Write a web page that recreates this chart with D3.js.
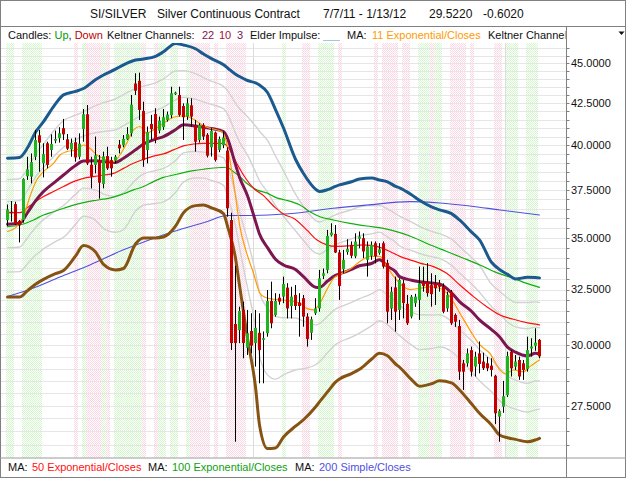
<!DOCTYPE html>
<html>
<head>
<meta charset="utf-8">
<script src="https://cdn.jsdelivr.net/npm/d3@7"></script>
<style>
  body { margin: 0; background: #fff; }
  text { font-family: "Liberation Sans", Arial, sans-serif; }
</style>
</head>
<body>
<div id="chart"></div>
<script>
// ---- candles (one per trading day, 7/7/11 .. 1/13/12) ----
var opens = [35.92,36.35,36.75,35.87,35.92,38.26,38.23,39.34,40.57,38.97,
  40.11,39.72,40.26,40.40,40.99,40.34,39.76,40.17,39.34,40.93,
  41.82,38.89,38.88,39.15,37.83,39.38,39.15,39.12,40.03,39.99,
  40.34,40.69,43.71,43.88,42.02,39.72,41.24,41.84,40.85,41.05,
  41.48,41.76,43.06,43.00,42.32,41.68,42.36,41.17,40.30,41.17,
  40.60,39.88,40.73,39.73,40.00,39.69,35.92,30.93,30.66,31.56,
  29.89,30.62,30.09,30.54,30.23,30.52,31.97,31.33,32.12,32.17,
  32.59,31.74,32.25,31.90,32.10,31.26,30.54,31.41,31.63,33.15,
  33.43,35.14,35.21,34.28,33.46,34.30,34.66,34.09,34.96,34.99,
  33.92,34.12,34.74,34.25,34.74,33.76,31.63,32.60,31.56,32.79,
  31.84,31.26,31.87,32.02,32.87,32.87,32.71,32.79,32.79,32.63,
  31.63,32.40,31.33,30.84,29.23,29.23,29.79,29.09,29.65,29.30,
  29.23,29.13,28.71,27.07,27.46,27.92,29.72,29.09,29.37,29.23,
  28.99,29.86,29.97,30.23];
var highs = [36.73,36.91,36.87,35.92,38.14,39.34,39.53,40.89,40.89,40.11,
  40.20,40.63,40.85,41.05,41.54,40.65,40.38,40.44,40.69,42.14,
  42.38,39.34,40.50,39.44,39.63,39.91,39.34,39.44,40.30,40.59,
  41.05,43.00,44.36,44.40,42.58,41.09,41.78,42.18,41.68,42.14,
  41.98,43.51,43.20,43.51,42.48,42.79,42.79,41.48,41.28,41.28,
  40.70,40.99,40.79,40.50,40.79,39.88,36.30,33.63,31.71,31.94,
  31.56,31.41,31.56,31.41,30.60,32.48,32.87,32.33,32.30,33.11,
  32.80,32.63,32.71,32.33,32.25,31.41,31.26,32.10,33.43,33.50,
  35.41,35.75,35.66,34.41,34.41,34.94,34.83,35.24,35.33,35.24,
  34.83,34.83,34.83,34.74,34.83,33.92,32.63,33.11,33.03,32.95,
  32.25,32.25,32.30,33.59,33.59,33.76,33.27,33.19,32.95,32.79,
  32.40,32.48,31.40,31.11,29.37,29.86,29.94,29.72,30.16,29.68,
  29.50,29.44,28.75,27.36,28.50,29.72,29.79,29.58,29.51,29.37,
  30.37,30.30,30.74,30.27];
var lows = [35.61,35.84,35.66,34.78,35.78,38.05,37.86,39.15,38.50,38.19,
  38.69,39.34,40.11,40.15,40.30,39.72,39.34,39.06,39.19,40.20,
  38.88,37.59,38.41,37.04,37.59,38.60,38.23,38.97,39.53,39.88,
  40.30,40.50,43.00,41.48,38.78,38.97,40.30,40.11,40.69,40.89,
  41.38,41.58,43.00,41.68,40.30,41.48,41.09,39.63,40.15,40.30,
  39.30,39.35,39.07,39.60,39.83,36.09,29.79,26.11,30.09,29.44,
  29.58,29.65,29.09,28.40,28.40,30.37,30.74,31.26,31.80,31.87,
  31.18,31.18,31.56,30.37,30.81,29.94,30.23,31.33,31.48,33.00,
  33.27,35.08,34.25,32.02,33.27,34.17,34.00,34.00,34.49,34.00,
  33.11,33.92,33.75,34.17,33.50,30.96,31.11,30.59,31.11,31.18,
  30.89,31.18,31.70,31.11,32.40,32.17,31.71,31.79,32.40,31.41,
  31.48,30.89,30.80,28.54,28.13,29.09,28.68,28.68,28.81,28.95,
  28.90,28.68,26.78,26.11,27.22,27.85,28.68,28.95,28.54,28.54,
  28.88,29.51,29.76,29.44];
var closes = [36.47,36.27,35.70,35.65,38.10,38.63,39.04,40.30,40.15,39.49,
  38.88,40.07,40.36,40.69,40.63,39.80,40.13,39.30,40.09,41.82,
  38.97,38.23,39.42,37.90,39.36,38.69,38.69,39.34,39.82,40.36,
  40.65,42.40,43.26,42.08,39.15,40.77,40.93,40.30,41.44,41.64,
  41.80,43.10,43.14,41.78,41.64,42.48,41.68,40.20,41.17,40.50,
  39.40,40.83,39.16,40.36,40.44,36.53,30.09,30.09,31.51,30.09,
  30.52,29.98,30.76,29.79,30.30,31.97,30.96,31.97,31.94,32.76,
  31.63,32.17,31.74,31.74,31.26,30.26,31.14,31.63,33.03,33.27,
  35.11,35.27,34.28,32.67,33.92,34.46,34.12,34.82,35.08,34.33,
  34.58,34.66,34.09,34.44,33.59,31.48,32.40,31.48,32.95,31.87,
  30.96,32.17,32.17,32.79,32.67,32.33,32.29,32.56,32.63,31.48,
  32.25,30.96,31.03,28.88,28.88,29.65,28.88,29.51,29.20,29.02,
  29.02,28.95,27.20,27.29,27.88,29.54,29.02,29.30,28.68,28.95,
  29.79,29.94,30.11,29.52];

// Elder impulse per day: 1 = green, -1 = red, 0 = neutral
var impulse = [1,1,0,0,1,1,1,1,1,0,
  0,0,0,0,0,0,0,-1,0,1,
  -1,-1,-1,-1,1,-1,0,1,1,1,
  1,1,1,1,-1,0,0,-1,1,1,
  0,1,1,0,0,1,-1,-1,-1,-1,
  -1,0,-1,0,0,-1,-1,-1,-1,-1,
  0,0,0,0,0,0,0,0,0,1,
  0,0,0,0,-1,-1,0,0,1,1,
  1,1,0,-1,0,0,0,0,0,0,
  0,0,-1,0,-1,-1,-1,-1,0,-1,
  -1,0,0,1,1,1,-1,1,1,0,
  0,-1,-1,-1,-1,0,-1,0,0,0,
  0,0,-1,-1,0,1,1,1,0,0,
  1,1,1,0];

// ---- Keltner channel: day index, middle (EMA 22), outer upper, outer lower ----
var kcIdx   = [0,3,5,7,9,12,14,17,19,22,24,27,29,32,34,37,39,42,44,47,49,51,54,55,57,58,60,62,63,65,
  67,69,72,74,77,78,80,82,83,86,88,91,93,95,97,98,101,103,106,108,111,113,116,118,121,123,125,127,130,132,133];
var kcMid   = [35.70,35.75,36.30,36.92,37.42,37.96,38.32,38.85,39.10,39.11,39.07,39.02,39.26,39.73,40.07,40.35,40.50,40.90,41.19,41.12,
  41.05,40.97,40.79,40.40,38.90,38.20,37.20,35.85,35.20,34.52,33.95,33.67,33.45,33.11,32.61,32.60,32.90,33.17,33.24,33.46,
  33.63,33.74,33.92,33.60,33.35,33.11,32.94,32.87,32.81,32.76,32.35,31.94,31.50,31.11,30.68,30.37,29.92,29.70,29.54,29.65,29.62];
var kcUpper = [39.26,39.30,39.85,40.75,41.38,42.45,43.00,43.22,43.40,43.95,44.25,44.62,44.90,45.21,45.28,45.45,45.75,46.30,46.20,45.95,
  45.60,45.30,44.90,44.70,44.30,44.15,43.90,43.75,43.62,43.15,42.10,41.00,39.20,38.40,37.55,37.42,37.52,37.70,37.78,37.95,
  38.10,38.15,38.05,37.95,37.70,37.62,37.25,36.95,36.60,36.45,36.25,35.92,35.30,34.91,33.80,33.45,33.22,33.00,33.08,33.07,33.05];
var kcLower = [32.15,32.15,32.45,32.75,32.98,33.25,33.40,34.10,34.62,34.30,33.70,33.43,33.50,34.70,35.00,35.00,35.05,35.60,36.30,36.67,
  36.70,36.55,36.25,35.60,34.00,32.70,30.30,28.25,26.75,25.86,25.88,26.29,26.70,26.95,27.45,27.65,28.05,28.45,28.58,28.80,
  28.98,29.40,29.65,29.55,29.20,29.07,28.55,28.28,28.38,28.50,28.42,28.13,27.58,27.20,26.75,26.37,26.26,26.20,26.11,26.18,26.24];

// ---- moving averages: [day index, value] ----
var ema11 = [[0,35.33],[2.3,35.58],[4,36.09],[5.6,37.15],[7.3,38.05],[9,38.51],[11.5,38.97],[13.1,39.44],[14.8,39.63],[17.3,39.73],
  [19,40.01],[20.6,39.83],[22.3,39.44],[24.8,39.16],[26.5,39.07],[28.1,39.44],[29.8,40.11],[31.5,40.89],[33.1,41.09],[34.8,40.69],
  [36.5,40.89],[39,41.28],[41.5,41.64],[44,41.72],[46.5,41.52],[49,41.13],[50.6,40.99],[53.5,40.79],[54.6,40.30],[55.6,39.16],
  [56.9,37.33],[58.1,35.58],[59.8,34.25],[61.5,33.27],[63.1,32.33],[64.4,32.14],[66.5,32.05],[69.4,32.00],[73.1,31.87],[74.8,31.63],
  [76.5,31.56],[78.1,31.87],[79.8,32.48],[81.5,33.03],[83.1,33.22],[85.6,33.46],[88.1,33.84],[90.6,34.09],[93.1,34.09],[94.8,33.59],
  [97.3,32.95],[99,32.63],[100.6,32.50],[103.1,32.56],[105.6,32.63],[108.1,32.56],[110.6,32.17],[113.1,31.41],[115.6,30.66],[118.1,30.01],
  [120.6,29.65],[123.1,28.95],[124.4,28.79],[126.5,28.95],[129,28.88],[130.6,29.09],[133,29.37]];
var ema50 = [[0,36.30],[3.1,36.30],[4.8,36.53],[6.5,36.80],[9,37.15],[11.5,37.42],[14,37.69],[16.5,37.96],[19,38.14],[21.5,38.23],
  [24,38.32],[26.5,38.41],[29,38.69],[31.5,38.97],[34,39.20],[36.5,39.38],[39,39.50],[41.5,39.73],[44,39.96],[46.5,40.07],
  [49,40.11],[54,40.11],[55.6,39.73],[57.3,38.97],[59,38.32],[61.5,37.60],[64,37.20],[67,36.55],[69.4,36.18],[71.5,36.01],
  [74.8,35.41],[77.3,34.91],[79.8,34.66],[82.3,34.58],[85.6,34.61],[89,34.66],[92.3,34.58],[95.6,34.33],[98.1,34.09],[100.6,33.92],
  [103.1,33.76],[106.5,33.59],[109.8,33.27],[113.1,32.71],[116.5,32.17],[119.8,31.71],[123.1,31.33],[126.5,31.14],[129.8,30.99],[133,30.89]];
var ema100 = [[0,35.58],[3.1,35.66],[6.5,35.92],[9,36.18],[11.5,36.35],[14,36.53],[16.5,36.70],[19,36.83],[21.5,36.93],[24,37.01],
  [26.5,37.12],[29,37.30],[31.5,37.51],[34,37.69],[36.5,37.96],[39,38.19],[41.5,38.32],[44,38.45],[46.5,38.56],[49,38.64],
  [54.8,38.75],[56.5,38.50],[58.1,38.23],[59.8,37.87],[62.3,37.51],[64.8,37.35],[67.3,37.08],[69.4,36.97],[73.1,36.70],[75.6,36.35],
  [78.1,36.09],[81.5,35.92],[85.6,35.75],[89.8,35.61],[94,35.49],[98.1,35.27],[101.5,35.03],[105.6,34.66],[109.8,34.33],[114,34.00],
  [118.1,33.67],[122.3,33.30],[126.5,33.03],[129.8,32.79],[133,32.60]];
var sma200 = [[0,32.18],[5.2,32.48],[13.1,33.09],[20.6,33.67],[29,34.41],[34.4,34.83],[41.5,35.33],[49.8,35.83],[54.8,36.15],[60.6,36.15],
  [69.4,36.23],[73.1,36.30],[81.5,36.53],[89.8,36.70],[100.6,36.88],[108.1,36.81],[115.6,36.65],[123.1,36.44],[133,36.18]];

var priceTicks = [27.5, 30, 32.5, 35, 37.5, 40, 42.5, 45];
var monthLines = [61.5, 124.5]; // Oct 1, Jan 1 separators

// ---- layout ----
const W = 626, H = 478;
const plotL = 1, plotR = 566.5, plotT = 43, plotB = 457.5;

const svg = d3.select("#chart").append("svg")
  .attr("width", W).attr("height", H)
  .style("display", "block");

const defs = svg.append("defs");
function dotPattern(id, col){
  const p = defs.append("pattern").attr("id", id)
    .attr("patternUnits", "userSpaceOnUse").attr("width", 2).attr("height", 2);
  p.append("rect").attr("x", 0).attr("y", 0).attr("width", 1).attr("height", 1)
    .attr("fill", col).attr("shape-rendering", "crispEdges");
  p.append("rect").attr("x", 1).attr("y", 1).attr("width", 1).attr("height", 1)
    .attr("fill", col).attr("shape-rendering", "crispEdges");
}
dotPattern("impUp", "#d2f8cc");
dotPattern("impDn", "#ffd6e3");
defs.append("clipPath").attr("id", "plotClip").append("rect")
  .attr("x", plotL).attr("y", plotT).attr("width", plotR - plotL).attr("height", plotB - plotT);

svg.append("rect").attr("width", W).attr("height", H).attr("fill", "#fff");

const x = d3.scaleLinear().domain([0, closes.length - 1]).range([7.5, 539.5]);
const y = d3.scaleLog().domain([27.5, 45]).range([405.7, 63.3]);

const plot = svg.append("g").attr("clip-path", "url(#plotClip)");

// impulse shading
plot.append("g").selectAll("rect")
  .data(impulse.map((v, i) => ({v: v, i: i})).filter(d => d.v !== 0))
  .join("rect")
  .attr("x", d => x(d.i) - 2).attr("width", 4)
  .attr("y", plotT).attr("height", plotB - plotT)
  .attr("shape-rendering", "crispEdges")
  .attr("fill", d => d.v > 0 ? "url(#impUp)" : "url(#impDn)");

// horizontal grid every 0.5
const gridVals = d3.range(25.5, 47, 0.5);
plot.append("g").selectAll("line").data(gridVals).join("line")
  .attr("x1", plotL).attr("x2", plotR)
  .attr("y1", d => Math.round(y(d)) + 0.5).attr("y2", d => Math.round(y(d)) + 0.5)
  .attr("stroke", "#e6e6e6").attr("stroke-width", 1);

plot.append("g").selectAll("line").data(monthLines).join("line")
  .attr("x1", d => x(d)).attr("x2", d => x(d))
  .attr("y1", plotT).attr("y2", plotB)
  .attr("stroke", "#dcdcdc").attr("stroke-width", 1);

// lines
const line = d3.line().x(d => x(d[0])).y(d => y(d[1])).curve(d3.curveMonotoneX);
function drawLine(pts, col, w){
  plot.append("path").datum(pts).attr("d", line)
    .attr("fill", "none").attr("stroke", col).attr("stroke-width", w)
    .attr("stroke-linejoin", "round").attr("stroke-linecap", "round");
}

// inner Keltner bands at 1/3 and 2/3 of the outer channel width
[1, 2].forEach(k => {
  drawLine(kcIdx.map((i, j) => [i, kcMid[j] + (kcUpper[j] - kcMid[j]) * k / 3]), "#d2d2d2", 1.4);
  drawLine(kcIdx.map((i, j) => [i, kcMid[j] - (kcMid[j] - kcLower[j]) * k / 3]), "#d2d2d2", 1.4);
});
drawLine(sma200, "#5050e0", 1.1);
drawLine(ema100, "#10b010", 1.2);
drawLine(ema50, "#ff1010", 1.2);
drawLine(kcIdx.map((i, j) => [i, kcUpper[j]]), "#1b5a8e", 3);
drawLine(kcIdx.map((i, j) => [i, kcLower[j]]), "#875312", 3);
drawLine(kcIdx.map((i, j) => [i, kcMid[j]]), "#7d1650", 3);
drawLine(ema11, "#ff9a00", 1.2);

// candles
const candles = closes.map((c, i) => ({i: i, o: opens[i], h: highs[i], l: lows[i], c: c}));
const cg = plot.append("g");
cg.selectAll("line").data(candles).join("line")
  .attr("x1", d => x(d.i)).attr("x2", d => x(d.i))
  .attr("y1", d => y(d.h)).attr("y2", d => y(d.l))
  .attr("stroke", "#000").attr("stroke-width", 1);
cg.selectAll("rect").data(candles).join("rect")
  .attr("x", d => x(d.i) - 1.5).attr("width", 3)
  .attr("y", d => y(Math.max(d.o, d.c)))
  .attr("height", d => Math.max(1.5, Math.abs(y(d.o) - y(d.c))))
  .attr("fill", d => d.c >= d.o ? "#1fb31f" : "#c40000");

// ---- frame ----
svg.append("rect").attr("x", 0.5).attr("y", 0.5).attr("width", W - 1).attr("height", H - 1)
  .attr("fill", "none").attr("stroke", "#808080");
svg.append("line").attr("x1", 0).attr("x2", W).attr("y1", 26.5).attr("y2", 26.5).attr("stroke", "#808080");
svg.append("line").attr("x1", 0).attr("x2", W).attr("y1", plotB + 0.5).attr("y2", plotB + 0.5).attr("stroke", "#9a9a9a");
svg.append("line").attr("x1", plotR).attr("x2", plotR).attr("y1", 26.5).attr("y2", H).attr("stroke", "#808080");
svg.append("path").attr("d", "M618.5,31.5 L624.5,31.5 L621.5,35 Z").attr("fill", "#111");

// title
const title = svg.append("g").attr("font-size", 12).attr("fill", "#111");
[["SI/SILVER", 90], ["Silver Continuous Contract", 157], ["7/7/11 - 1/13/12", 323],
 ["29.5220", 429], ["-0.6020", 483]].forEach(t => {
  title.append("text").attr("x", t[1]).attr("y", 18).text(t[0]);
});

// top legend
const legClip = defs.append("clipPath").attr("id", "legClip");
legClip.append("rect").attr("x", 0).attr("y", 27).attr("width", plotR - 1).attr("height", 17);
const leg = svg.append("g").attr("font-size", 11).attr("fill", "#111").attr("clip-path", "url(#legClip)");
let t = leg.append("text").attr("x", 8).attr("y", 39);
t.append("tspan").text("Candles: ");
t.append("tspan").attr("fill", "#00a000").text("Up");
t.append("tspan").text(", ");
t.append("tspan").attr("fill", "#c00000").text("Down");
t = leg.append("text").attr("x", 107).attr("y", 39);
t.append("tspan").text("Keltner Channels:");
t.append("tspan").attr("x", 202).attr("fill", "#7d1650").text("22");
t.append("tspan").attr("x", 219).attr("fill", "#a01040").text("10");
t.append("tspan").attr("x", 237).attr("fill", "#7d1650").text("3");
leg.append("text").attr("x", 250).attr("y", 39).text("Elder Impulse:");
leg.append("line").attr("x1", 323).attr("x2", 340).attr("y1", 40.5).attr("y2", 40.5)
  .attr("stroke", "#a8c4e4").attr("stroke-width", 1);
t = leg.append("text").attr("x", 347).attr("y", 39);
t.append("tspan").text("MA:");
t.append("tspan").attr("x", 372).attr("fill", "#ff9a00").text("11 Exponential/Closes");
leg.append("text").attr("x", 488).attr("y", 39).text("Keltner Channels:");

// bottom legend
const bleg = svg.append("g").attr("font-size", 11).attr("fill", "#111");
[["50 Exponential/Closes", "#ff1010", 8], ["100 Exponential/Closes", "#10a010", 148],
 ["200 Simple/Closes", "#5050e0", 295]].forEach(d => {
  const tt = bleg.append("text").attr("x", d[2]).attr("y", 471);
  tt.append("tspan").text("MA:");
  tt.append("tspan").attr("x", d[2] + 24).attr("fill", d[1]).text(d[0]);
});

// right price axis
const ax = svg.append("g");
ax.selectAll("line").data(gridVals.filter(v => y(v) > plotT && y(v) < plotB)).join("line")
  .attr("x1", plotR).attr("x2", plotR + 3)
  .attr("y1", d => Math.round(y(d)) + 0.5).attr("y2", d => Math.round(y(d)) + 0.5)
  .attr("stroke", "#808080");
ax.selectAll("text").data(priceTicks).join("text")
  .attr("x", 571).attr("y", d => y(d)).attr("dy", "0.35em")
  .attr("font-size", 11).attr("fill", "#111")
  .text(d => d3.format(".4f")(d));
</script>
</body>
</html>
